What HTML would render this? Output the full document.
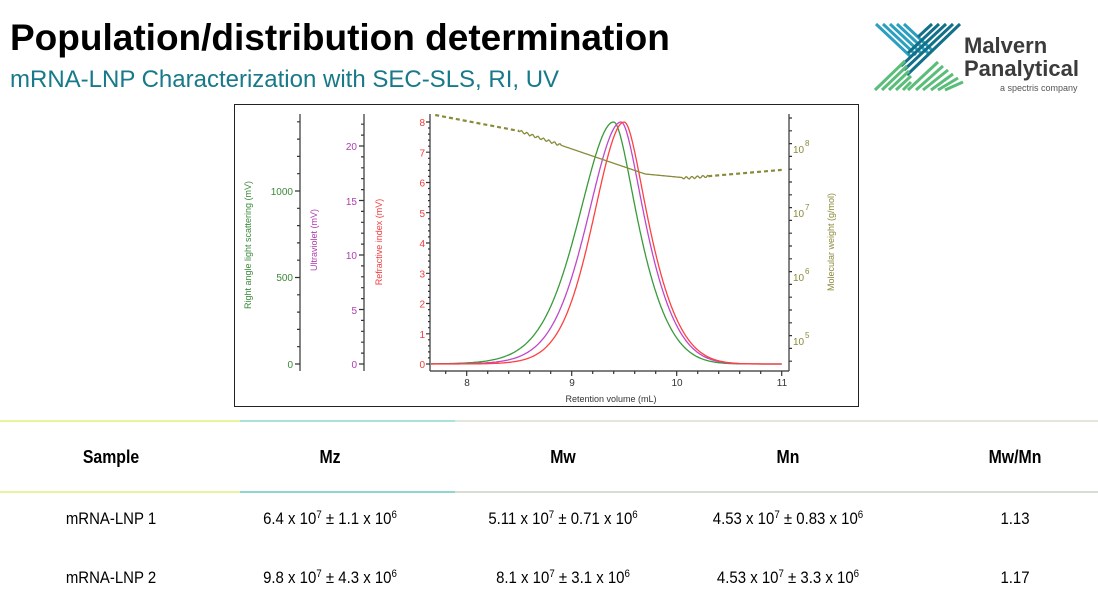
<!DOCTYPE html>
<html><head><meta charset="utf-8"><style>
body{margin:0;width:1098px;height:604px;background:#fff;overflow:hidden;font-family:"Liberation Sans",Arial,sans-serif;position:relative}
.t{position:absolute;white-space:nowrap}
.n{transform:scaleX(0.88);transform-origin:center}
sup{font-size:65%;vertical-align:0;position:relative;top:-0.55em}
</style></head><body>
<div class="t" style="left:10px;top:17px;font-size:37px;font-weight:bold;color:#000">Population/distribution determination</div>
<div class="t" style="left:10px;top:66px;font-size:24px;color:#17798a">mRNA-LNP Characterization with SEC-SLS, RI, UV</div>

<svg style="position:absolute;left:0;top:0" width="1098" height="604">
 <g stroke-width="3" fill="none">
  <g stroke="#2a9fc0">
   <line x1="876" y1="24" x2="910" y2="56"/><line x1="883" y1="24" x2="916" y2="55"/><line x1="890" y1="24" x2="922" y2="54"/><line x1="897" y1="24" x2="928" y2="53"/><line x1="904" y1="24" x2="933" y2="51"/>
  </g>
  <g stroke="#137089">
   <line x1="960" y1="24" x2="907" y2="75"/><line x1="953" y1="24" x2="904" y2="70"/><line x1="946" y1="24" x2="901" y2="66"/><line x1="939" y1="24" x2="908" y2="53"/><line x1="932" y1="24" x2="918" y2="37"/>
  </g>
  <g stroke="#5bbd7a">
   <line x1="875" y1="90" x2="905" y2="61"/><line x1="882" y1="90" x2="907" y2="66"/><line x1="889" y1="90" x2="909" y2="71"/><line x1="896" y1="90" x2="911" y2="76"/><line x1="903" y1="90" x2="911" y2="82"/>
   <line x1="908" y1="90" x2="938" y2="62"/><line x1="916" y1="90" x2="943" y2="66"/><line x1="923" y1="90" x2="948" y2="70"/><line x1="931" y1="90" x2="953" y2="74"/><line x1="938" y1="90" x2="958" y2="78"/><line x1="945" y1="90" x2="963" y2="82"/>
  </g>
 </g>
 <text x="964" y="53" font-size="22" font-weight="bold" fill="#3b3b3b">Malvern</text>
 <text x="964" y="76" font-size="22" font-weight="bold" fill="#3b3b3b">Panalytical</text>
 <text x="1000" y="91" font-size="9" fill="#555">a spectris company</text>

 <rect x="234.5" y="104.5" width="624" height="302" fill="#fff" stroke="#222" stroke-width="1"/>
 <g id="ax" stroke="#333" stroke-width="1.2" fill="none"></g>
 <g font-size="10" font-family="Liberation Sans, DejaVu Sans, sans-serif">
  <g fill="#3a8a3a" text-anchor="end"><text x="293" y="368">0</text><text x="293" y="281">500</text><text x="293" y="195">1000</text></g>
  <g fill="#b03cb0" text-anchor="end"><text x="357" y="368">0</text><text x="357" y="314">5</text><text x="357" y="259">10</text><text x="357" y="205">15</text><text x="357" y="150">20</text></g>
  <g fill="#f03c3c" text-anchor="end" id="rit"></g>
  <g fill="#333" text-anchor="middle"><text x="467" y="386">8</text><text x="572" y="386">9</text><text x="677" y="386">10</text><text x="782" y="386">11</text></g>
  <text x="611" y="402" text-anchor="middle" fill="#333" font-size="9">Retention volume (mL)</text>
  <g fill="#8a8a3a"><text x="793" y="153">10</text><text x="805" y="146" font-size="8">8</text><text x="793" y="217">10</text><text x="805" y="210" font-size="8">7</text><text x="793" y="281">10</text><text x="805" y="274" font-size="8">6</text><text x="793" y="345">10</text><text x="805" y="338" font-size="8">5</text></g>
  <text transform="translate(251,245) rotate(-90)" text-anchor="middle" fill="#3a8a3a" font-size="9">Right angle light scattering (mV)</text>
  <text transform="translate(317,240) rotate(-90)" text-anchor="middle" fill="#b03cb0" font-size="9">Ultraviolet (mV)</text>
  <text transform="translate(382,242) rotate(-90)" text-anchor="middle" fill="#f03c3c" font-size="9">Refractive index (mV)</text>
  <text transform="translate(834,242) rotate(-90)" text-anchor="middle" fill="#8a8a3a" font-size="9">Molecular weight (g/mol)</text>
 </g>
 <g id="curves" fill="none" stroke-width="1.3"></g>

 <line x1="0" y1="421" x2="240" y2="421" stroke="#dff07a" stroke-width="1.5"/>
 <line x1="240" y1="421" x2="455" y2="421" stroke="#8fd8cc" stroke-width="1.5"/>
 <line x1="455" y1="421" x2="1098" y2="421" stroke="#d8dfd2" stroke-width="1.5"/>
 <line x1="0" y1="492" x2="240" y2="492" stroke="#dff07a" stroke-width="1.5"/>
 <line x1="240" y1="492" x2="455" y2="492" stroke="#6cc8bc" stroke-width="1.5"/>
 <line x1="455" y1="492" x2="1098" y2="492" stroke="#ccd0c8" stroke-width="1.5"/>
</svg>

<div class="t n" style="left:61px;width:100px;text-align:center;top:447px;font-size:18px;font-weight:bold">Sample</div>
<div class="t n" style="left:280px;width:100px;text-align:center;top:447px;font-size:18px;font-weight:bold">Mz</div>
<div class="t n" style="left:513px;width:100px;text-align:center;top:447px;font-size:18px;font-weight:bold">Mw</div>
<div class="t n" style="left:738px;width:100px;text-align:center;top:447px;font-size:18px;font-weight:bold">Mn</div>
<div class="t n" style="left:965px;width:100px;text-align:center;top:447px;font-size:18px;font-weight:bold">Mw/Mn</div>

<div class="t n" style="left:41px;width:140px;text-align:center;top:509px;font-size:17px">mRNA-LNP 1</div>
<div class="t n" style="left:230px;width:200px;text-align:center;top:509px;font-size:17px">6.4 x 10<sup>7</sup> ± 1.1 x 10<sup>6</sup></div>
<div class="t n" style="left:463px;width:200px;text-align:center;top:509px;font-size:17px">5.11 x 10<sup>7</sup> ± 0.71 x 10<sup>6</sup></div>
<div class="t n" style="left:688px;width:200px;text-align:center;top:509px;font-size:17px">4.53 x 10<sup>7</sup> ± 0.83 x 10<sup>6</sup></div>
<div class="t n" style="left:965px;width:100px;text-align:center;top:509px;font-size:17px">1.13</div>

<div class="t n" style="left:41px;width:140px;text-align:center;top:568px;font-size:17px">mRNA-LNP 2</div>
<div class="t n" style="left:230px;width:200px;text-align:center;top:568px;font-size:17px">9.8 x 10<sup>7</sup> ± 4.3 x 10<sup>6</sup></div>
<div class="t n" style="left:463px;width:200px;text-align:center;top:568px;font-size:17px">8.1 x 10<sup>7</sup> ± 3.1 x 10<sup>6</sup></div>
<div class="t n" style="left:688px;width:200px;text-align:center;top:568px;font-size:17px">4.53 x 10<sup>7</sup> ± 3.3 x 10<sup>6</sup></div>
<div class="t n" style="left:965px;width:100px;text-align:center;top:568px;font-size:17px">1.17</div>

<script>
var NS="http://www.w3.org/2000/svg";
function el(p,t,a){var e=document.createElementNS(NS,t);for(var k in a)e.setAttribute(k,a[k]);p.appendChild(e);return e;}
var ax=document.getElementById('ax');
var d="";
d+="M300 114V371";for(var v=0;v<=1400;v+=100){var y=364-v*0.173;d+="M"+(v%500?297:295)+" "+y.toFixed(1)+"H300";}
d+="M364 114V371";for(var v=0;v<=22;v+=1){var y=364-v*10.9;d+="M"+(v%5?361:359)+" "+y.toFixed(1)+"H364";}
d+="M430 114V371";for(var v=0;v<=8.2;v+=0.2){var y=364-v*30.25;var mj=Math.abs(v-Math.round(v))<0.01;d+="M"+(mj?426:428)+" "+y.toFixed(1)+"H430";}
d+="M430 371H789";for(var v=7.8;v<=11.01;v+=0.2){var x=431+(v-7.66)*105;var mj=Math.abs(v-Math.round(v))<0.01;d+="M"+x.toFixed(1)+" 371V"+(mj?376:374);}
d+="M789 114V371";for(var y=118;y<=366;y+=12.8){d+="M789 "+y.toFixed(1)+"H792";}
el(ax,'path',{d:d});
var rit=document.getElementById('rit');
for(var i=0;i<=8;i++){var t=el(rit,'text',{x:425,y:(368-i*30.25).toFixed(1)});t.textContent=i;}
function X(v){return 431+(v-7.66)*105;}
function Y(r){return 364-r*30.25;}
function peak(x,p,sl,sr,tl,tr){var s;if(x<p){s=sl+tl*(p-x);}else s=sr+tr*0.6*Math.tanh((x-p)/0.6);return 8*Math.exp(-0.5*Math.pow((x-p)/s,2));}
var cv=document.getElementById('curves');
var specs=[["#3a9a3a",9.4,0.3,0.17,0.09],["#c048c8",9.47,0.29,0.17,0.08],["#ff4040",9.5,0.27,0.17,0.07]];
specs.forEach(function(s){var p="";for(var x=7.66;x<=11.0;x+=0.01){var r=peak(x,s[1],s[2],s[3],s[4],0.25);p+=(p?"L":"M")+X(x).toFixed(1)+" "+Y(r).toFixed(1);}el(cv,'path',{d:p,stroke:s[0]});});
function mw(x){if(x<8.5)return 115+(x-7.7)*20;if(x<9.7)return 131+(x-8.5)/1.2*43;if(x<10.1)return 174+(x-9.7)*10;return 178-(x-10.1)*9;}
el(cv,'path',{d:"M"+X(7.7)+" "+mw(7.7)+"L"+X(8.5)+" "+mw(8.5),stroke:"#8a8a3a","stroke-width":2.2,"stroke-dasharray":"4 3"});
var sp="";for(var x=8.5;x<=10.3;x+=0.01){var y=mw(x);if(x<8.9||x>10.05)y+=1.2*Math.sin(x*120);sp+=(sp?"L":"M")+X(x).toFixed(1)+" "+y.toFixed(1);}
el(cv,'path',{d:sp,stroke:"#8a8a3a","stroke-width":1.3});
el(cv,'path',{d:"M"+X(10.3)+" "+mw(10.3)+"L"+X(11)+" "+mw(11),stroke:"#8a8a3a","stroke-width":2.2,"stroke-dasharray":"4 3"});
</script>
</body></html>
